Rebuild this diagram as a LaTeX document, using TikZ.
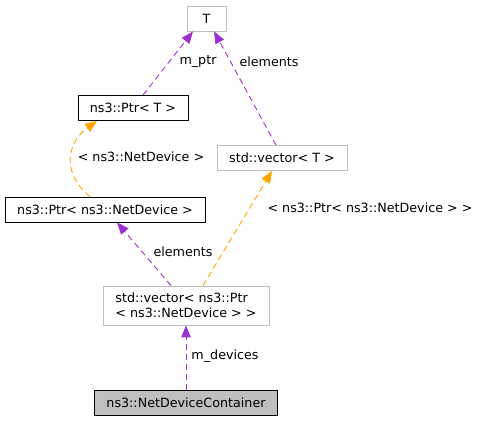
\documentclass[tikz,border=0pt]{standalone}
\usepackage{fontspec}
\setmainfont{DejaVu Sans}
\usepackage{xcolor}
\usetikzlibrary{arrows.meta}
\definecolor{edgepurple}{HTML}{9A32CD}
\definecolor{edgeorange}{HTML}{FFA500}
\definecolor{boxgray}{HTML}{BFBFBF}

\begin{document}
\begin{tikzpicture}[x=1pt, y=-1pt,
    font=\fontsize{12.7}{15}\selectfont,
    cls/.style={rectangle, draw, inner sep=0pt, line width=0.8pt},
    undoc/.style={cls, draw=boxgray},
    member/.style={line width=0.9pt, dash pattern=on 6pt off 4pt, -{Triangle[length=12pt,width=9.5pt]}, edgepurple},
    templ/.style={member, edgeorange},
    lbl/.style={inner sep=0pt}]
    \def\rowh{25pt}
    \useasboundingbox (0,0) rectangle (481,421);
    \node[undoc, minimum width=39pt, minimum height=\rowh] (t) at (206.5,18.5) {T};
    \node[cls, minimum width=110pt, minimum height=\rowh] (ptrt) at (133,108) {ns3::Ptr< T >};
    \node[undoc, minimum width=130pt, minimum height=\rowh] (vect) at (282,158) {std::vector< T >};
    \node[cls, minimum width=200pt, minimum height=\rowh] (ptrnd) at (105,209.5) {ns3::Ptr< ns3::NetDevice >};
    \node[undoc, minimum width=166pt, minimum height=39pt, align=left] (vecnd) at (186,305.5)
    {std::vector< ns3::Ptr\\< ns3::NetDevice > >};
    \node[cls, fill=boxgray, minimum width=183pt, minimum height=\rowh] (ndc) at (186,402.5) {ns3::NetDeviceContainer};

    \draw[member] ([xshift=10pt]ptrt.north) -- ([xshift=-13.5pt]t.south);
    \draw[member] ([xshift=-6pt]vect.north) -- ([xshift=7.5pt]t.south);
    \draw[templ] ([xshift=-15pt]ptrnd.north) .. controls (60,172) and (68,142) .. ([xshift=-36pt]ptrt.south);
    \draw[templ] ([xshift=17pt]vecnd.north) -- ([xshift=-10pt]vect.south);
    \draw[member] ([xshift=-15pt]vecnd.north) -- ([xshift=12pt]ptrnd.south);
    \draw[member] (ndc.north) -- (vecnd.south);

    \node[lbl] (lptr) at (198,62) {m\_ptr};
    \node[lbl] (lelemt) at (269,62) {elements};
    \node[lbl] (lnd) at (141,157) {< ns3::NetDevice >};
    \node[lbl] (lptrnd) at (370,208) {< ns3::Ptr< ns3::NetDevice > >};
    \node[lbl] (lelemnd) at (183,252) {elements};
    \node[lbl] (ldev) at (225,356) {m\_devices};
\end{tikzpicture}
\end{document}
